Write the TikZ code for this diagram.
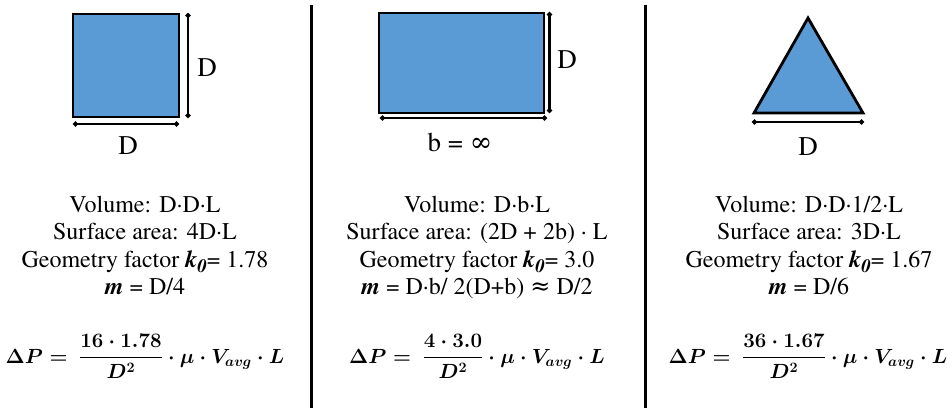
\RequirePackage{fix-cm}
\documentclass[tikz,border=0pt]{standalone}
\usepackage{amsmath}
\usepackage{fontspec}
\setmainfont{texgyretermes}[Extension=.otf, UprightFont=*-regular, BoldFont=*-bold, ItalicFont=*-italic, BoldItalicFont=*-bolditalic]
\newfontfamily\symfont{DejaVu Serif}
\usetikzlibrary{arrows.meta}
\definecolor{shapeblue}{HTML}{5B9BD5}
\newcommand{\kzero}{\textbf{\textit{k\raisebox{-0.22em}{\fontsize{19}{19}\selectfont 0}}}}
\newcommand{\mbold}{\textbf{\textit{m}}}
\newcommand{\dpeq}[1]{\mbox{$\boldsymbol{\Delta P =\ \dfrac{#1}{D^2}\cdot\mu\cdot V_{avg}\cdot L}$}}
\tikzset{
  shapefill/.style={fill=shapeblue, draw=black, line width=2.8pt, line join=miter},
  dimline/.style={line width=2.3pt, {Circle[length=5pt]}-{Circle[length=5pt]}},
  divider/.style={line width=3pt},
  dimlabel/.style={font=\fontsize{27}{30}\selectfont, inner sep=0pt},
  txt/.style={anchor=base, inner sep=0pt, font=\fontsize{24}{27.5}\selectfont},
  eqn/.style={anchor=base, inner sep=0pt, font=\fontsize{20.5}{24}\selectfont},
}
\begin{document}
\begin{tikzpicture}[x=1pt,y=-1pt]
\useasboundingbox (0,0) rectangle (952,408);
% dividers
\coordinate (d1t) at (311.5,5); \coordinate (d1b) at (311.5,408);
\coordinate (d2t) at (645,5);   \coordinate (d2b) at (645,408);
\draw[divider] (d1t) -- (d1b);
\draw[divider] (d2t) -- (d2b);

% --- square ---
\draw[shapefill] (73,14) rectangle (179,117);
\coordinate (sqv1) at (188,13); \coordinate (sqv2) at (188,118);
\coordinate (sqh1) at (73,124); \coordinate (sqh2) at (179,124);
\draw[dimline] (sqv1) -- (sqv2);
\draw[dimline] (sqh1) -- (sqh2);
\node[dimlabel] (sqD1) at (207,68) {D};
\node[dimlabel] (sqD2) at (128,146) {D};

% --- rectangle ---
\draw[shapefill] (379,13) rectangle (544,113);
\coordinate (rcv1) at (549.5,12); \coordinate (rcv2) at (549.5,113);
\coordinate (rch1) at (380,118); \coordinate (rch2) at (547,118);
\draw[dimline] (rcv1) -- (rcv2);
\draw[dimline] (rch1) -- (rch2);
\node[dimlabel] (rcD) at (567,60) {D};
\node[dimlabel] (rcb) at (460,142) {b = {\symfont ∞}};

% --- triangle ---
\draw[shapefill] (808,18) -- (863,113) -- (754,113) -- cycle;
\coordinate (trh1) at (752,122); \coordinate (trh2) at (864,122);
\draw[dimline] (trh1) -- (trh2);
\node[dimlabel] (trD) at (808,147) {D};

% --- column 1 text ---
\node[txt] (v1) at (145,212) {Volume: D·D·L};
\node[txt] (s1) at (145,239.5) {Surface area: 4D·L};
\node[txt] (g1) at (145,267) {Geometry factor \kzero= 1.78};
\node[txt] (m1) at (145,294.5) {\mbold{} = D/4};
\node[eqn] (p1) at (145,363) {\dpeq{16\cdot 1.78}};

% --- column 2 text ---
\node[txt] (v2) at (477,212) {Volume: D·b·L};
\node[txt] (s2) at (477,239.5) {Surface area: (2D + 2b) · L};
\node[txt] (g2) at (477,267) {Geometry factor \kzero= 3.0};
\node[txt] (m2) at (477,294.5) {\mbold{} = D·b/ 2(D+b) {\symfont ≈} D/2};
\node[eqn] (p2) at (477,363) {\dpeq{4\cdot 3.0}};

% --- column 3 text ---
\node[txt] (v3) at (809,212) {Volume: D·D·1/2·L};
\node[txt] (s3) at (809,239.5) {Surface area: 3D·L};
\node[txt] (g3) at (809,267) {Geometry factor \kzero= 1.67};
\node[txt] (m3) at (809,294.5) {\mbold{} = D/6};
\node[eqn] (p3) at (808,363) {\dpeq{36\cdot 1.67}};
\end{tikzpicture}
\end{document}
